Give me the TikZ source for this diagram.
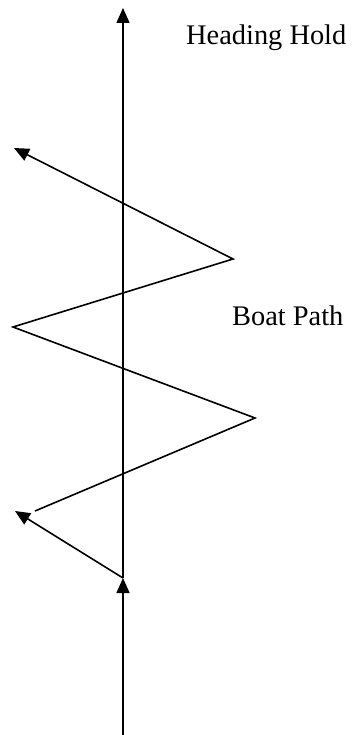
\documentclass[tikz,border=0pt]{standalone}
\usepackage{fontspec}
\setmainfont{Liberation Serif}
\usetikzlibrary{arrows.meta}
\begin{document}
\begin{tikzpicture}[x=1pt,y=-1pt,
  ln/.style={line width=1.6pt},
  arr/.style={ln,-{Triangle[length=15pt,width=13pt]}},
  lbl/.style={inner sep=0pt,anchor=base west,font=\fontsize{28.4}{34}\selectfont}]
\useasboundingbox (0,0) rectangle (352,735);
\coordinate (bot) at (123,735);
\coordinate (mid) at (123,578);
\coordinate (top) at (123,8);
\coordinate (a1) at (15,511);
\coordinate (z0) at (35,511);
\coordinate (z1) at (255,418);
\coordinate (z2) at (13,327);
\coordinate (z3) at (233,259);
\coordinate (z4) at (14,148);
\node[lbl] (hh) at (186,45) {Heading Hold};
\node[lbl] (bp) at (232,325) {Boat Path};
\draw[arr] (bot) -- (mid);
\draw[arr] (mid) -- (top);
\draw[arr] (mid) -- (a1);
\draw[arr,line join=miter] (z0) -- (z1) -- (z2) -- (z3) -- (z4);
\end{tikzpicture}
\end{document}
